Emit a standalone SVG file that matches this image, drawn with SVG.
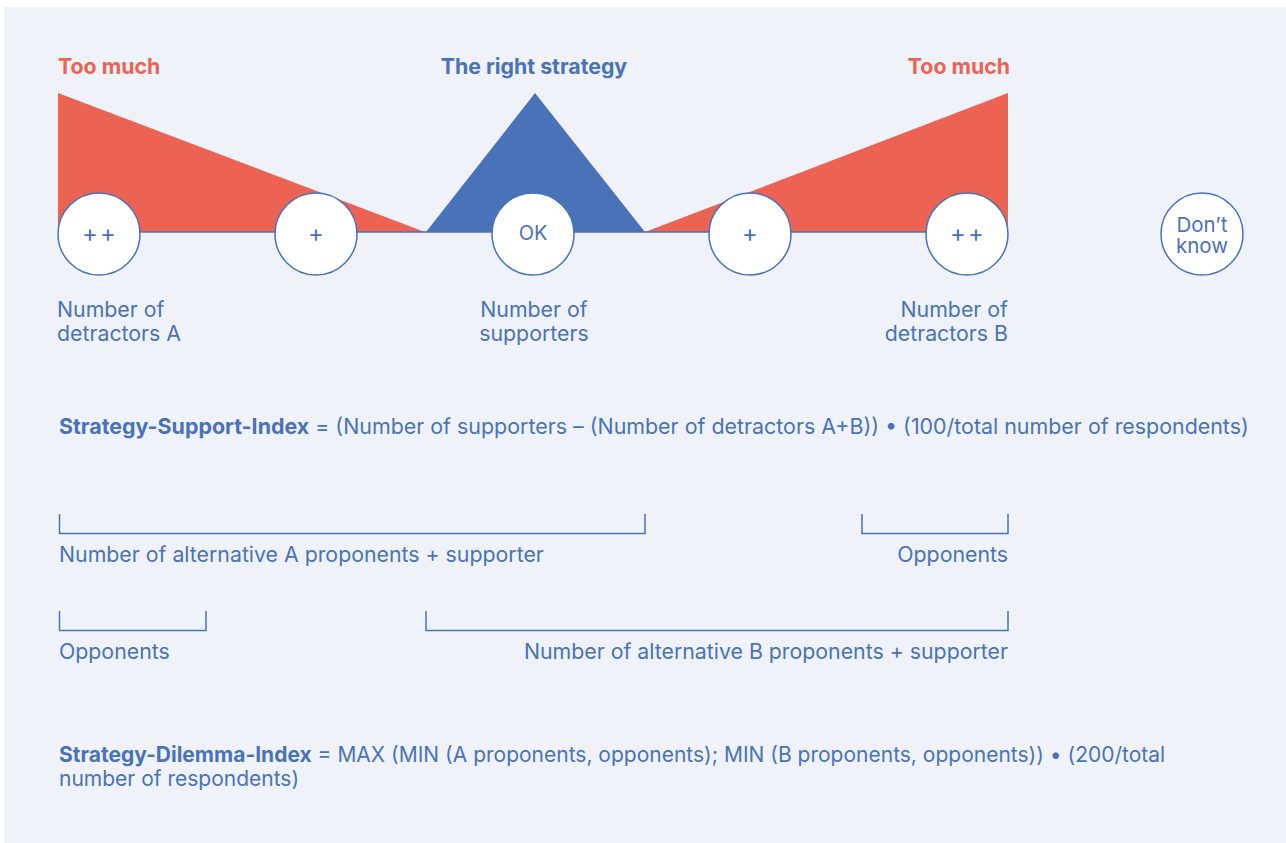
<svg xmlns="http://www.w3.org/2000/svg" width="1286" height="843" viewBox="0 0 1286 843">
<style>
.t{font-family:Inter,"Liberation Sans",sans-serif;font-size:21.3px;fill:#4a72b8}
.b{font-weight:700}
.red{fill:#ec6354}
.circ{fill:#ffffff;stroke:#4a72b8;stroke-width:1.5}
.ln{fill:none;stroke:#4a72b8;stroke-width:1.5}
.ci{font-family:Inter,"Liberation Sans",sans-serif;font-size:20px;fill:#4a72b8;text-anchor:middle}
.pl{font-size:24px;letter-spacing:2px}
</style>
<rect x="0" y="0" width="1286" height="843" fill="#ffffff"/>
<rect x="4" y="7" width="1282" height="836" fill="#eff3f9"/>
<g id="shapes">
<polygon points="58,93 58,232 425,232" fill="#ec6354"/>
<polygon points="535,93 426,232 645,232" fill="#4a72b8"/>
<polygon points="645,232 1008,93 1008,232" fill="#ec6354"/>
</g>
<g id="connectors">
<line class="ln" x1="58" y1="232" x2="1008" y2="232"/>
<path class="ln" d="M59.5,514 V533.5 H645 V514"/>
<path class="ln" d="M862,514 V533.5 H1008 V514"/>
<path class="ln" d="M59.5,611 V630.5 H206 V611"/>
<path class="ln" d="M426,611 V630.5 H1008 V611"/>
</g>
<g id="headers">
<text class="t b red" x="58" y="74">Too much</text>
<text class="t b" x="534" y="74" text-anchor="middle">The right strategy</text>
<text class="t b red" x="1010" y="74" text-anchor="end">Too much</text>
</g>
<g id="node-a2">
<circle class="circ" cx="99" cy="234" r="41"/>
<text class="ci pl" x="100" y="242">++</text>
</g>
<g id="node-a1">
<circle class="circ" cx="316" cy="234" r="41"/>
<text class="ci pl" x="317" y="242">+</text>
</g>
<g id="node-ok">
<circle class="circ" cx="533" cy="234" r="41"/>
<text class="ci" x="533" y="240">OK</text>
</g>
<g id="node-b1">
<circle class="circ" cx="750" cy="234" r="41"/>
<text class="ci pl" x="751" y="242">+</text>
</g>
<g id="node-b2">
<circle class="circ" cx="967" cy="234" r="41"/>
<text class="ci pl" x="968" y="242">++</text>
</g>
<g id="node-dk">
<circle class="circ" cx="1202" cy="234" r="41"/>
<text class="ci" x="1202" y="232" style="font-size:20.5px"><tspan x="1202" y="232">Don’t</tspan><tspan x="1202" y="253">know</tspan></text>
</g>
<g id="labels">
<text class="t" x="57" y="317">Number of</text>
<text class="t" x="57" y="341">detractors A</text>
<text class="t" x="534" y="317" text-anchor="middle">Number of</text>
<text class="t" x="534" y="341" text-anchor="middle">supporters</text>
<text class="t" x="1008" y="317" text-anchor="end">Number of</text>
<text class="t" x="1008" y="341" text-anchor="end">detractors B</text>
</g>
<g id="formula1">
<text class="t" x="59" y="434" style="font-size:21.4px"><tspan class="b">Strategy-Support-Index</tspan> = (Number of supporters – (Number of detractors A+B)) • (100/total number of respondents)</text>
</g>
<g id="bracket-labels">
<text class="t" x="59" y="562">Number of alternative A proponents + supporter</text>
<text class="t" x="1008" y="562" text-anchor="end">Opponents</text>
<text class="t" x="59" y="659">Opponents</text>
<text class="t" x="1008" y="659" text-anchor="end">Number of alternative B proponents + supporter</text>
</g>
<g id="formula2">
<text class="t" x="59" y="762" style="font-size:21px"><tspan class="b">Strategy-Dilemma-Index</tspan> = MAX (MIN (A proponents, opponents); MIN (B proponents, opponents)) • (200/total</text>
<text class="t" x="59" y="786" style="font-size:21px">number of respondents)</text>
</g>
</svg>
